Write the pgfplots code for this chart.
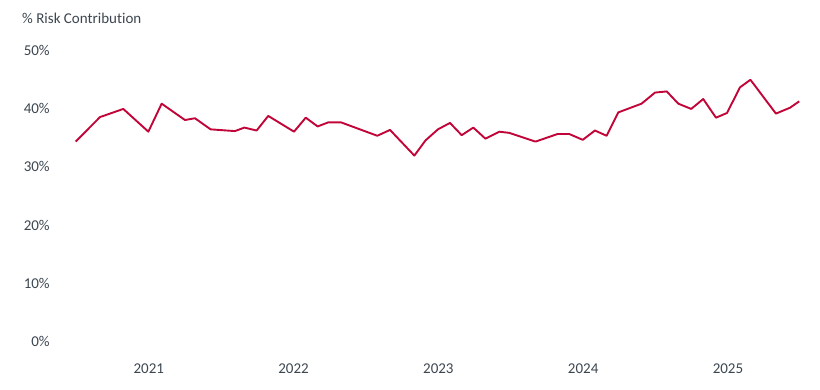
\documentclass[border=0pt]{standalone}
\usepackage{fontspec}
\setmainfont{Carlito}[RawFeature={-liga,-clig,-dlig}]
\usepackage{pgfplots}
\pgfplotsset{compat=1.18}
\definecolor{txtgray}{HTML}{3C4650}
\definecolor{riskred}{HTML}{C10538}
\begin{document}
\begin{tikzpicture}[x=1pt,y=1pt]
\path[use as bounding box] (0,0) rectangle (820,389);
\node[anchor=base west, inner sep=0pt, text=txtgray, font=\fontsize{15pt}{18pt}\selectfont] at (22,365) {\% Risk Contribution};
\begin{axis}[
  at={(61.9pt,47.3pt)}, anchor=south west,
  scale only axis, width=752.96pt, height=291.7pt,
  xmin=2020.4, xmax=2025.6, ymin=0, ymax=50,
  axis line style={draw=none}, tick style={draw=none}, major tick length=0pt,
  ytick={0,10,20,30,40,50},
  yticklabels={0\%,10\%,20\%,30\%,40\%,50\%},
  xtick={2021,2022,2023,2024,2025},
  xticklabels={2021,2022,2023,2024,2025},
  tick label style={text=txtgray, font=\fontsize{15pt}{18pt}\selectfont},
  yticklabel style={anchor=east, inner sep=0pt, xshift=-12pt},
  xticklabel style={anchor=north, inner sep=0pt, yshift=-22pt},
  clip=false
]
\addplot[riskred, line width=1.9pt, line join=round, no markers] coordinates {
(2020.495,34.3) (2020.663,38.5) (2020.824,39.9) (2020.997,36.0) (2021.089,40.8)
(2021.250,38.0) (2021.319,38.3) (2021.427,36.4) (2021.595,36.1) (2021.660,36.7)
(2021.745,36.2) (2021.825,38.7) (2022.003,36.0) (2022.084,38.4) (2022.166,36.9)
(2022.240,37.6) (2022.327,37.6) (2022.578,35.3) (2022.666,36.3) (2022.834,31.9)
(2022.911,34.5) (2022.997,36.4) (2023.080,37.5) (2023.161,35.4) (2023.241,36.7)
(2023.325,34.8) (2023.421,36.0) (2023.488,35.8) (2023.671,34.3) (2023.823,35.6)
(2023.904,35.6) (2023.997,34.6) (2024.081,36.2) (2024.162,35.3) (2024.242,39.3)
(2024.403,40.8) (2024.496,42.7) (2024.577,42.9) (2024.657,40.8) (2024.746,39.9)
(2024.829,41.6) (2024.917,38.4) (2024.993,39.2) (2025.083,43.6) (2025.155,44.9)
(2025.331,39.1) (2025.428,40.1) (2025.492,41.2)
};
\end{axis}
\end{tikzpicture}
\end{document}
